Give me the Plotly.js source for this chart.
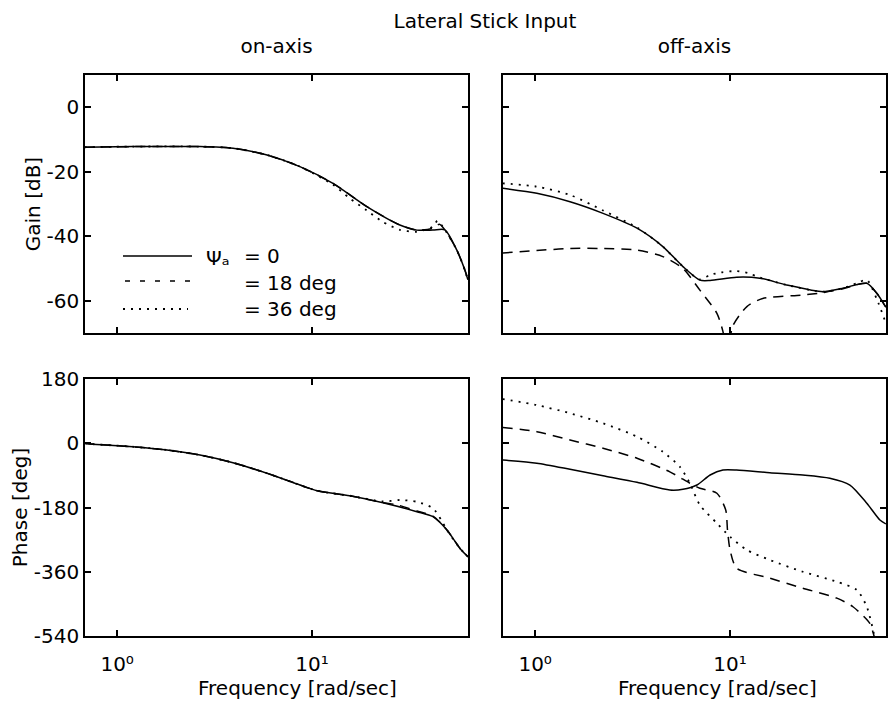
<!DOCTYPE html>
<html>
<head>
<meta charset="utf-8">
<script src="https://cdn.plot.ly/plotly-3.0.1.min.js"></script>
<style>html,body{margin:0;padding:0;background:#fff;}#chart{width:889px;height:704px;}</style>
</head>
<body>
<div id="chart"></div>
<script>
// ---------- data (frequency in rad/sec, gain in dB, phase in deg) ----------
// on-axis gain
const onGainFreq0  = [0.68, 1.2, 2.66, 3.93, 5.87, 8.66, 12.8, 19.1, 28.2, 34.5, 41.7, 48, 55.3, 60.8, 63];
const onGain0      = [-12.4, -12.2, -12.2, -12.7, -14.8, -18.4, -23.6, -30.8, -36.5, -38.1, -38.1, -38.0, -44.3, -50.5, -53.5];
const onGainFreq18 = [0.68, 1.2, 2.66, 3.93, 5.87, 8.66, 12.8, 19.1, 28.2, 34.5, 41.7, 45, 48, 55.3, 60.8, 63];
const onGain18     = [-12.4, -12.2, -12.2, -12.7, -14.8, -18.4, -23.6, -30.8, -36.5, -38.1, -37.5, -36.3, -38.0, -44.3, -50.5, -53.5];
const onGainFreq36 = [0.68, 1.2, 2.66, 3.93, 5.87, 8.66, 12.8, 15.5, 19.1, 23, 28.2, 34.5, 38, 41.7, 44, 48, 55.3, 60.8, 63];
const onGain36     = [-12.4, -12.2, -12.2, -12.7, -14.8, -18.4, -24.0, -28.1, -32.0, -35.5, -38.0, -38.6, -38.0, -37.0, -35.2, -38.0, -44.3, -50.5, -53.5];

// on-axis phase
const onPhaseFreq0  = [0.68, 0.73, 1.2, 1.8, 2.66, 3.93, 5.87, 8.66, 10.6, 15.6, 23.1, 34.5, 41.7, 49.2, 57.3, 63];
const onPhase0      = [0, -2, -9.7, -19, -33, -54.5, -84, -117, -133, -147, -166.5, -191.7, -205.7, -243, -294, -318];
const onPhaseFreq18 = [0.68, 0.73, 1.2, 1.8, 2.66, 3.93, 5.87, 8.66, 10.6, 15.6, 23.1, 27, 34.5, 41.7, 49.2, 57.3, 63];
const onPhase18     = [0, -2, -9.7, -19, -33, -54.5, -84, -117, -133, -147, -166.5, -172, -190, -204, -243, -294, -318];
const onPhaseFreq36 = [0.68, 0.73, 1.2, 1.8, 2.66, 3.93, 5.87, 8.66, 10.6, 15.6, 23.1, 28.2, 34.5, 41.7, 46, 49.2, 57.3, 63];
const onPhase36     = [0, -2, -9.7, -19, -33, -54.5, -84, -117, -133, -147, -163, -159, -164, -182, -215, -243, -294, -318];

// off-axis gain
const offGainFreq0  = [0.68, 1.02, 1.51, 2.23, 3.33, 4.52, 5.73, 7.0, 7.9, 10.8, 14.2, 19.5, 29.9, 37.9, 50.3, 56.6, 63];
const offGain0      = [-25.1, -26.7, -29.3, -32.9, -37.5, -43.2, -49.4, -53.6, -53.7, -52.7, -53.0, -55.1, -57.2, -56.1, -54.6, -57.7, -62];
const offGainFreq18 = [0.68, 1.51, 2.23, 3.33, 4.52, 5.73, 7.0, 8.56, 9.19, 9.7, 10.3, 12.2, 14.7, 23.6, 29.9, 37.9, 50.3, 56.6, 63];
const offGain18     = [-45.2, -43.8, -43.8, -44.3, -46.3, -50.0, -56.7, -63.9, -69.5, -78, -68, -61.8, -59.3, -58.2, -57.5, -56.3, -54.6, -57.7, -62];
const offGainFreq36 = [0.68, 1.02, 1.51, 2.23, 3.33, 4.52, 5.73, 7.0, 7.9, 9, 10.8, 12.5, 14.2, 19.5, 29.9, 37.9, 45, 50.3, 56.6, 63];
const offGain36     = [-23.6, -24.6, -27.2, -32.0, -37.3, -43.2, -49.4, -53.4, -52, -51.2, -50.8, -51.5, -52.8, -55.1, -57.2, -56.1, -54.5, -53.5, -59.5, -67];

// off-axis phase
const offPhaseFreq0  = [0.68, 1.02, 1.51, 2.23, 3.33, 4.91, 5.73, 6.76, 7.9, 9.19, 10.8, 16, 23.6, 32.5, 41.2, 50.3, 58.7, 63];
const offPhase0      = [-47, -56, -73, -91, -109.5, -131, -129, -117, -89, -75, -75, -82.5, -89, -98, -117, -168, -215, -226];
const offPhaseFreq18 = [0.68, 1.02, 1.51, 2.23, 3.33, 4.91, 6.22, 7.0, 8.56, 9.5, 9.7, 10.0, 10.8, 16, 23.6, 35.3, 42.7, 52, 54.6, 58];
const offPhase18     = [44.6, 32.4, 9, -14, -42, -80, -112, -126, -140, -187, -243, -299, -350, -378, -406, -434, -458, -504, -537, -600];
const offPhaseFreq36 = [0.68, 1.02, 1.51, 2.23, 3.33, 4.52, 5.53, 6.22, 7.0, 8.56, 10.0, 12.2, 16, 23.6, 35.3, 44.7, 50.3, 54.6, 58];
const offPhase36     = [124, 107, 84, 56, 18.5, -24, -66, -112, -173, -224, -262, -299, -327, -360, -388, -411, -458, -532, -600];

// tick labels
const freqTickVals = [1, 10];
const freqTickText = ['10\u2070', '10\u00B9'];
const gainTickVals = [0, -20, -40, -60];
const phaseTickVals = [180, 0, -180, -360, -540];
const legendSymbol = '\u03A8\u2090';
const legendLabels = ['= 0', '= 18 deg', '= 36 deg'];

// ---------- layout helpers ----------
const W = 889, H = 704;
const px = v => v / W;
const py = v => 1 - v / H;
const FONT = 'DejaVu Sans, sans-serif';
const txt = {family: FONT, size: 20, color: '#000'};
const styles = [
  {color: '#000', width: 1.5, dash: 'solid'},
  {color: '#000', width: 1.5, dash: '10px,7px'},
  {color: '#000', width: 1.8, dash: '2px,6px'}
];

function tr(x, y, xa, ya, s) {
  return {x: x, y: y, xaxis: xa, yaxis: ya, type: 'scatter', mode: 'lines',
          line: Object.assign({shape: 'spline', smoothing: 0.7}, styles[s]),
          hoverinfo: 'skip', showlegend: false, cliponaxis: true};
}

const data = [
  tr(onGainFreq0, onGain0, 'x', 'y', 0),
  tr(onGainFreq18, onGain18, 'x', 'y', 1),
  tr(onGainFreq36, onGain36, 'x', 'y', 2),
  tr(offGainFreq0, offGain0, 'x2', 'y2', 0),
  tr(offGainFreq18, offGain18, 'x2', 'y2', 1),
  tr(offGainFreq36, offGain36, 'x2', 'y2', 2),
  tr(onPhaseFreq0, onPhase0, 'x3', 'y3', 0),
  tr(onPhaseFreq18, onPhase18, 'x3', 'y3', 1),
  tr(onPhaseFreq36, onPhase36, 'x3', 'y3', 2),
  tr(offPhaseFreq0, offPhase0, 'x4', 'y4', 0),
  tr(offPhaseFreq18, offPhase18, 'x4', 'y4', 1),
  tr(offPhaseFreq36, offPhase36, 'x4', 'y4', 2)
];

const xL = [px(85), px(468)], xR = [px(503), px(886)];
const yG = [py(333), py(75)], yP = [py(636), py(379)];

function xax(domain, anchor, labels, title, side) {
  const a = {domain: domain, anchor: anchor, type: 'log', range: [-0.165, 1.80], side: side,
          tickmode: 'array', tickvals: freqTickVals, ticktext: freqTickText,
          showticklabels: labels, ticks: 'inside', ticklen: 6, tickwidth: 1.5, tickcolor: '#000',
          showline: true, linecolor: '#000', linewidth: 1.5, mirror: 'allticks',
          showgrid: false, zeroline: false, fixedrange: true, automargin: false,
          tickfont: txt};
  if (labels) a.ticklabelstandoff = 9;
  if (title) a.title = {text: title, font: txt, standoff: side === 'top' ? 14 : 4};
  return a;
}
function yax(domain, anchor, range, vals, labels, title) {
  const a = {domain: domain, anchor: anchor, range: range,
          tickmode: 'array', tickvals: vals, ticktext: vals.map(String),
          showticklabels: labels, ticks: 'inside', ticklen: 6, tickwidth: 1.5, tickcolor: '#000',
          showline: true, linecolor: '#000', linewidth: 1.5, mirror: 'allticks',
          showgrid: false, zeroline: false, fixedrange: true, automargin: false,
          tickfont: txt};
  if (title) a.title = {text: title, font: txt, standoff: 1};
  return a;
}

function ann(text, x, y, opts) {
  return Object.assign({text: text, x: px(x), y: py(y), xref: 'paper', yref: 'paper',
                        showarrow: false, font: txt, xanchor: 'center', yanchor: 'middle'}, opts || {});
}

const annotations = [
  ann('Frequency [rad/sec]', 297, 688),
  ann('Frequency [rad/sec]', 717, 688),
  ann(legendSymbol, 204, 258, {xanchor: 'left'}),
  ann(legendLabels[0], 242, 256, {xanchor: 'left'}),
  ann(legendLabels[1], 242, 283, {xanchor: 'left'}),
  ann(legendLabels[2], 242, 309, {xanchor: 'left'})
];

const shapes = [
  {type: 'line', xref: 'paper', yref: 'paper', x0: px(123), x1: px(192), y0: py(256), y1: py(256), line: {color: '#000', width: 1.5}},
  {type: 'line', xref: 'paper', yref: 'paper', x0: px(125), x1: px(192), y0: py(281), y1: py(281), line: {color: '#000', width: 1.5, dash: '5px,10px'}},
  {type: 'line', xref: 'paper', yref: 'paper', x0: px(123), x1: px(188), y0: py(309), y1: py(309), line: {color: '#000', width: 1.8, dash: '2px,6px'}}
];

const layout = {
  width: W, height: H,
  margin: {l: 0, r: 0, t: 0, b: 0},
  paper_bgcolor: '#fff', plot_bgcolor: '#fff',
  showlegend: false,
  font: txt,
  title: {text: 'Lateral Stick Input', x: px(485), xanchor: 'center', y: py(21), yanchor: 'middle', font: txt},
  xaxis: xax(xL, 'y', false, 'on-axis', 'top'),
  yaxis: yax(yG, 'x', [-70, 10], gainTickVals, true, 'Gain [dB]'),
  xaxis2: xax(xR, 'y2', false, 'off-axis', 'top'),
  yaxis2: yax(yG, 'x2', [-70, 10], gainTickVals, false),
  xaxis3: xax(xL, 'y3', true, null, 'bottom'),
  yaxis3: yax(yP, 'x3', [-540, 180], phaseTickVals, true, 'Phase [deg]'),
  xaxis4: xax(xR, 'y4', true, null, 'bottom'),
  yaxis4: yax(yP, 'x4', [-540, 180], phaseTickVals, false),
  annotations: annotations,
  shapes: shapes
};

Plotly.newPlot('chart', data, layout, {displayModeBar: false});
</script>
</body>
</html>
